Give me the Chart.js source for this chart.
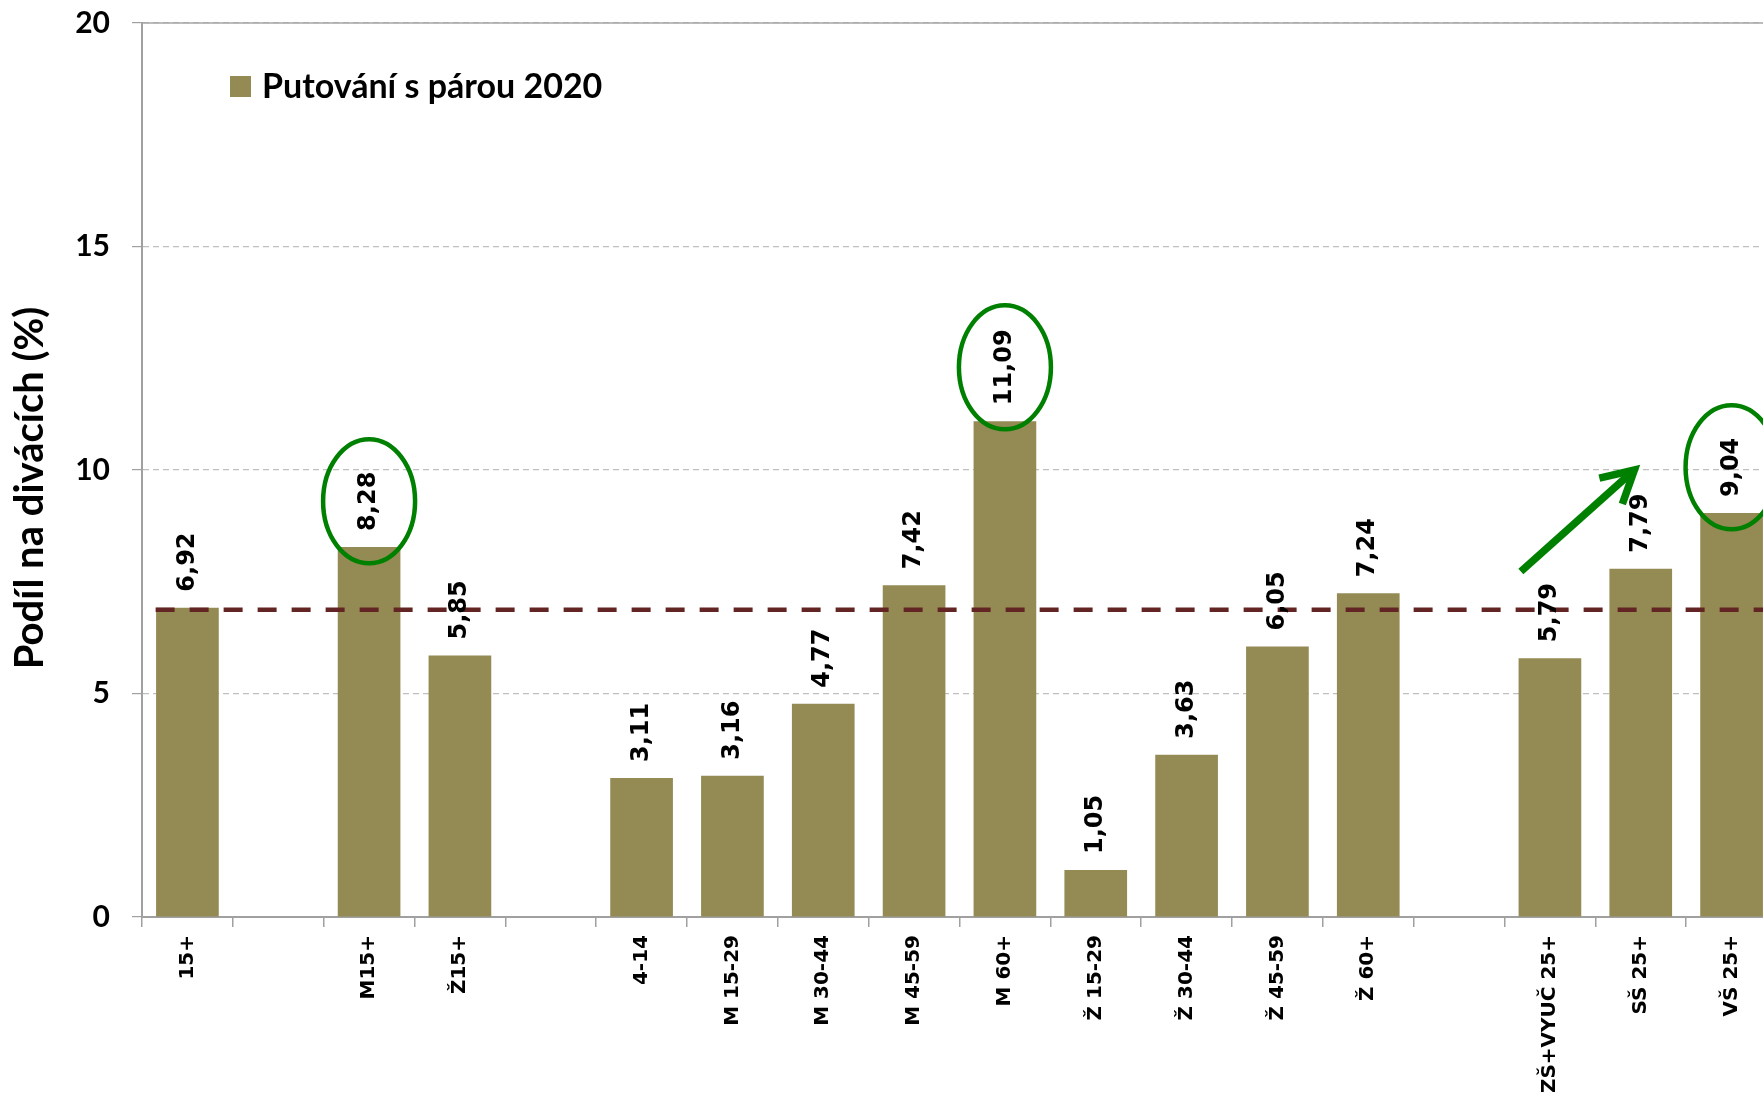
<!DOCTYPE html>
<html>
<head>
<meta charset="utf-8">
<script src="https://cdn.jsdelivr.net/npm/chart.js@4/dist/chart.umd.min.js"></script>
<style>
  html, body { margin: 0; padding: 0; background: #fff; overflow: hidden; }
  canvas { display: block; }
</style>
</head>
<body>
<canvas id="graf" width="1780" height="1094" style="width:1780px;height:1094px"></canvas>
<script>
// kategorie (prazdne = mezera mezi skupinami)
const kategorie = ['15+', '', 'M15+', 'Ž15+', '', '4-14', 'M 15-29', 'M 30-44', 'M 45-59', 'M 60+',
    'Ž 15-29', 'Ž 30-44', 'Ž 45-59', 'Ž 60+', '', 'ZŠ+VYUČ 25+', 'SŠ 25+', 'VŠ 25+'];
const podil = [6.92, null, 8.28, 5.85, null, 3.11, 3.16, 4.77, 7.42, 11.09,
    1.05, 3.63, 6.05, 7.24, null, 5.79, 7.79, 9.04];
const nazevRady = 'Putování s párou 2020';
const nazevOsyY = 'Podíl na divácích (%)';
const prumer15 = 6.92;               // hodnota 15+ jako referencni cara
const zvyraznene = ['M15+', 'M 60+', 'VŠ 25+'];
const sipkaOd = [14.68, 7.73];       // [index kategorie, hodnota]
const sipkaDo = [15.93, 10.0];

const barva = '#948a54';
const zelena = '#008000';

const popisky = {
    id: 'popisky',
    beforeDatasetsDraw(chart) {
        const { ctx, chartArea, scales } = chart;
        // plna horni mrizka
        const yTop = scales.y.getPixelForValue(scales.y.max);
        ctx.save();
        ctx.strokeStyle = '#a6a6a6';
        ctx.lineWidth = 1.5;
        ctx.beginPath();
        ctx.moveTo(chartArea.left, yTop);
        ctx.lineTo(chartArea.right, yTop);
        ctx.stroke();
        ctx.restore();

        // nazev osy Y
        ctx.save();
        ctx.translate(30, (chartArea.top + chartArea.bottom) / 2 + 18);
        ctx.rotate(-Math.PI / 2);
        ctx.font = 'bold 40px Lato';
        ctx.fillStyle = '#000';
        ctx.textAlign = 'center';
        ctx.textBaseline = 'middle';
        ctx.fillText(nazevOsyY, 0, 0);
        ctx.restore();
    },
    afterDatasetsDraw(chart) {
        const { ctx, scales } = chart;
        const x = scales.x, y = scales.y;

        // referencni prumer 15+
        const yp = y.getPixelForValue(prumer15) + 2;
        ctx.save();
        ctx.strokeStyle = '#632523';
        ctx.lineWidth = 4.5;
        ctx.setLineDash([19, 15]);
        ctx.beginPath();
        ctx.moveTo(x.getPixelForValue(-0.35), yp);
        ctx.lineTo(x.getPixelForValue(17.75), yp);
        ctx.stroke();
        ctx.restore();

        // hodnoty nad sloupci
        const meta = chart.getDatasetMeta(0);
        ctx.save();
        ctx.font = 'bold 24px "DejaVu Sans"';
        ctx.fillStyle = '#000';
        ctx.textAlign = 'left';
        ctx.textBaseline = 'middle';
        meta.data.forEach((bar, i) => {
            if (podil[i] == null) return;
            const txt = podil[i].toFixed(2).replace('.', ',');
            const w = ctx.measureText(txt).width;
            const by = bar.y - 16;
            ctx.save();
            ctx.translate(bar.x, by);
            ctx.rotate(-Math.PI / 2);
            ctx.fillText(txt, 0, 0);
            ctx.restore();

            if (zvyraznene.includes(kategorie[i])) {
                ctx.save();
                ctx.strokeStyle = zelena;
                ctx.lineWidth = 4.5;
                ctx.beginPath();
                ctx.ellipse(bar.x, by - w / 2, 46, 62, 0, 0, Math.PI * 2);
                ctx.stroke();
                ctx.restore();
            }
        });
        ctx.restore();

        // sipka
        const x1 = x.getPixelForValue(sipkaOd[0]), y1 = y.getPixelForValue(sipkaOd[1]);
        const x2 = x.getPixelForValue(sipkaDo[0]), y2 = y.getPixelForValue(sipkaDo[1]);
        const a = Math.atan2(y2 - y1, x2 - x1);
        const hl = 36;
        ctx.save();
        ctx.strokeStyle = zelena;
        ctx.lineWidth = 7.5;
        ctx.beginPath();
        ctx.moveTo(x1, y1);
        ctx.lineTo(x2 - 4 * Math.cos(a), y2 - 4 * Math.sin(a));
        ctx.stroke();
        ctx.lineJoin = 'miter';
        ctx.beginPath();
        ctx.moveTo(x2 - hl * Math.cos(a - 0.5), y2 - hl * Math.sin(a - 0.5));
        ctx.lineTo(x2, y2);
        ctx.lineTo(x2 - hl * Math.cos(a + 0.5), y2 - hl * Math.sin(a + 0.5));
        ctx.stroke();
        ctx.restore();

        // legenda
        const l = chart.chartArea.left;
        const t = chart.chartArea.top;
        ctx.save();
        ctx.fillStyle = barva;
        ctx.fillRect(l + 88, t + 53, 21, 21);
        ctx.fillStyle = '#000';
        ctx.font = 'bold 34px Lato';
        ctx.textBaseline = 'middle';
        ctx.textAlign = 'left';
        ctx.fillText(chart.data.datasets[0].label, l + 120, t + 64);
        ctx.restore();
    }
};

new Chart(document.getElementById('graf'), {
    type: 'bar',
    data: {
        labels: kategorie,
        datasets: [{
            label: nazevRady,
            data: podil,
            backgroundColor: barva,
            borderWidth: 0,
            categoryPercentage: 1,
            barPercentage: 0.69
        }]
    },
    options: {
        responsive: false,
        animation: false,
        devicePixelRatio: 1,
        layout: { padding: { top: 23, right: 3, left: 0, bottom: 0 } },
        plugins: {
            legend: { display: false },
            tooltip: { enabled: false }
        },
        scales: {
            x: {
                afterFit: s => { s.height = 177; },
                grid: {
                    offset: true,
                    drawOnChartArea: false,
                    drawTicks: true,
                    tickLength: 10,
                    color: '#a0a0a0',
                    lineWidth: 1.5
                },
                border: { color: '#a0a0a0', width: 2 },
                ticks: {
                    autoSkip: false,
                    minRotation: 90,
                    maxRotation: 90,
                    padding: 8,
                    color: '#000',
                    font: { family: 'DejaVu Sans', weight: 'bold', size: 20 }
                }
            },
            y: {
                min: 0,
                max: 20,
                afterFit: s => {
                    s.width = 142;
                    s.paddingTop = 0;
                    s.paddingBottom = 0;
                },
                grid: {
                    color: '#bfbfbf',
                    lineWidth: 1.2,
                    tickLength: 10,
                    tickColor: '#a0a0a0',
                    tickBorderDash: []
                },
                border: { color: '#a0a0a0', width: 2, dash: [6, 4] },
                ticks: {
                    stepSize: 5,
                    padding: 22,
                    color: '#000',
                    font: { family: 'Lato', weight: 'bold', size: 30 }
                }
            }
        }
    },
    plugins: [popisky]
});
</script>
</body>
</html>
